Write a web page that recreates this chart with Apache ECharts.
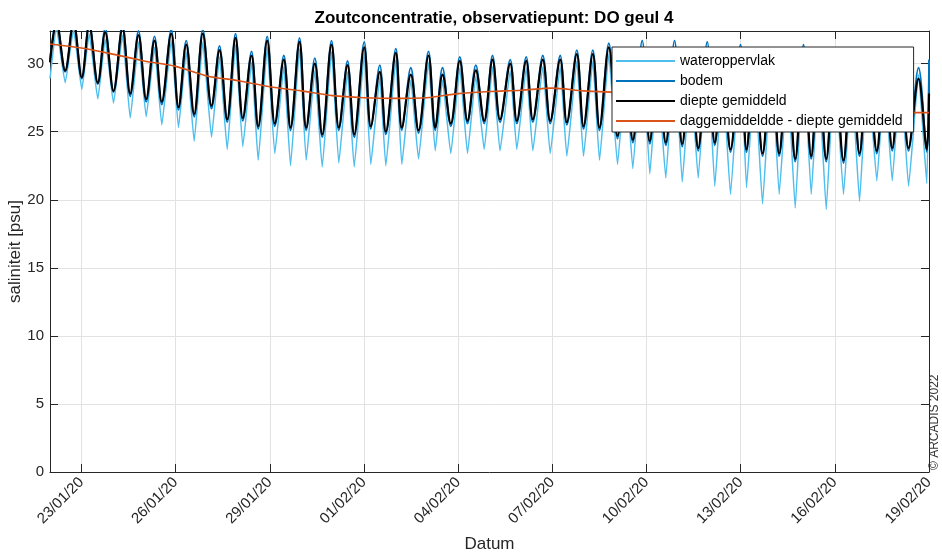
<!DOCTYPE html>
<html>
<head>
<meta charset="utf-8">
<script src="https://cdn.jsdelivr.net/npm/echarts@6/dist/echarts.min.js"></script>
<style>
  html, body { margin: 0; padding: 0; background: #ffffff; }
  #chart { width: 942px; height: 553px; }
</style>
</head>
<body>
<div id="chart"></div>
<script>
// Time of each tidal extreme (high / low), in days after 22/01/2020 00:00
const extremeDays = [
  0.000, 0.207, 0.484, 0.749, 1.013, 1.249, 1.523, 1.758, 2.023, 2.309,
  2.555, 2.819, 3.064, 3.329, 3.561, 3.861, 4.093, 4.339, 4.593, 4.867,
  5.145, 5.399, 5.645, 5.909, 6.142, 6.419, 6.632, 6.919, 7.161, 7.448,
  7.661, 7.948, 8.161, 8.435, 8.671, 8.967, 9.200, 9.477, 9.690, 10.009,
  10.219, 10.506, 10.697, 11.016, 11.207, 11.493, 11.739, 12.057, 12.271, 12.503,
  12.767, 13.054, 13.299, 13.564, 13.831, 14.096, 14.335, 14.660, 14.870, 15.169,
  15.380, 15.698, 15.934, 16.252, 16.463, 16.781, 16.995, 17.291, 17.504, 17.800,
  18.078, 18.332, 18.565, 18.864, 19.107, 19.352, 19.616, 19.894, 20.139, 20.403,
  20.648, 20.935, 21.177, 21.422, 21.677, 21.996, 22.187, 22.442, 22.697, 22.984,
  23.228, 23.493, 23.738, 24.002, 24.248, 24.480, 24.726, 24.990, 25.277, 25.532,
  25.787, 26.042, 26.338, 26.583, 26.829, 27.093, 27.348, 27.666, 27.930, 28.000
];

// Salinity [psu] at those moments
const surfaceSal = [
  28.9, 32.6, 28.6, 32.5, 28.1, 32.2, 27.4, 31.8, 27.1, 32.1,
  26.0, 31.6, 26.1, 31.2, 25.5, 31.7, 25.3, 30.9, 24.3, 31.6,
  24.6, 30.5, 23.7, 31.4, 23.9, 30.1, 22.9, 31.2, 23.4, 29.8,
  22.5, 31.1, 22.9, 29.5, 22.4, 30.9, 22.7, 29.4, 22.4, 30.7,
  22.6, 29.0, 22.5, 30.3, 22.6, 28.8, 23.0, 30.1, 23.6, 28.8,
  23.4, 29.7, 23.4, 29.1, 23.7, 29.8, 23.6, 29.5, 23.7, 29.7,
  23.6, 29.8, 23.4, 29.8, 23.2, 30.2, 23.2, 30.2, 22.9, 30.7,
  22.6, 29.3, 22.3, 31.2, 21.9, 29.3, 21.6, 31.1, 21.3, 29.3,
  21.6, 31.0, 21.0, 29.2, 20.4, 30.9, 20.9, 29.1, 19.7, 30.1,
  20.4, 29.0, 19.4, 30.6, 20.4, 29.0, 19.3, 30.0, 20.4, 29.0,
  19.9, 29.8, 21.4, 29.0, 21.4, 29.5, 21.0, 29.2, 21.2, 30.2
];
const bottomSal = [
  30.3, 33.2, 29.4, 33.2, 28.9, 33.0, 28.5, 32.6, 27.9, 32.9,
  27.6, 32.4, 27.2, 32.0, 27.0, 32.5, 26.6, 31.7, 26.1, 32.5,
  26.7, 31.3, 25.7, 32.2, 25.8, 30.9, 25.2, 32.0, 25.4, 30.6,
  25.1, 31.9, 25.1, 30.4, 24.6, 31.7, 25.1, 30.2, 24.6, 31.6,
  25.2, 29.9, 24.8, 31.1, 25.1, 29.7, 24.9, 30.9, 25.1, 29.7,
  25.4, 30.5, 25.6, 29.9, 25.6, 30.6, 25.7, 30.3, 25.6, 30.5,
  25.7, 30.6, 25.6, 30.6, 25.5, 31.0, 25.2, 31.0, 25.1, 31.5,
  24.5, 30.1, 24.2, 31.7, 24.1, 30.1, 24.0, 31.7, 23.9, 30.1,
  23.6, 31.6, 24.0, 30.0, 23.5, 31.4, 23.5, 29.9, 23.2, 30.9,
  23.2, 29.8, 22.8, 31.4, 23.0, 29.8, 22.8, 30.8, 22.7, 29.8,
  23.2, 30.6, 23.4, 29.8, 23.6, 30.3, 23.6, 29.7, 23.5, 30.3
];
const depthMeanSal = [
  30.1, 33.0, 29.5, 33.0, 29.0, 32.8, 28.6, 32.3, 28.0, 32.6,
  27.8, 32.1, 27.4, 31.7, 27.2, 32.2, 26.8, 31.4, 26.3, 32.2,
  26.9, 31.0, 25.9, 31.9, 26.0, 30.6, 25.4, 31.7, 25.6, 30.3,
  25.3, 31.6, 25.3, 30.0, 24.8, 31.4, 25.3, 29.9, 24.8, 31.2,
  25.4, 29.4, 25.0, 30.8, 25.3, 29.2, 25.1, 30.6, 25.3, 29.2,
  25.6, 30.2, 25.8, 29.5, 25.8, 30.3, 25.9, 30.0, 25.8, 30.2,
  25.9, 30.3, 25.8, 30.3, 25.7, 30.7, 25.4, 30.7, 25.3, 31.2,
  24.7, 29.8, 24.4, 31.0, 24.3, 29.8, 24.2, 31.0, 24.1, 29.8,
  23.8, 30.9, 24.2, 29.7, 23.7, 30.8, 23.7, 29.6, 23.4, 30.6,
  23.4, 29.5, 23.0, 30.8, 23.2, 29.5, 23.0, 30.5, 22.9, 29.5,
  23.4, 30.3, 23.6, 29.5, 23.8, 30.0, 23.8, 28.9, 23.7, 27.8
];

// Daily mean of the depth-averaged salinity, one value per day (00:00)
const dailyDays = [0, 1, 2, 3, 4, 5, 6, 7, 8, 9, 10, 11, 12, 13, 14,
                   15, 16, 17, 18, 19, 20, 21, 22, 23, 24, 25, 26, 27, 28];
const dailyMeanSal = [31.45, 31.15, 30.7, 30.2, 29.8, 29.1, 28.75, 28.3, 28.0, 27.65,
                      27.5, 27.45, 27.5, 27.8, 27.95, 28.05, 28.2, 28.0, 27.9, 27.8,
                      27.6, 27.3, 27.0, 26.8, 26.6, 26.5, 26.4, 26.4, 26.4];

// Axis ticks
const dateTickDays = [1, 4, 7, 10, 13, 16, 19, 22, 25, 28];
const dateTickLabels = ['23/01/20', '26/01/20', '29/01/20', '01/02/20', '04/02/20',
                        '07/02/20', '10/02/20', '13/02/20', '16/02/20', '19/02/20'];
const salTicks = [0, 5, 10, 15, 20, 25, 30];

const seriesNames = ['wateroppervlak', 'bodem', 'diepte gemiddeld',
                     'daggemiddeldde - diepte gemiddeld'];

const FONT = '"Liberation Sans", Arial, Helvetica, sans-serif';
const AXIS_COLOR = '#262626';
const GRID_COLOR = '#e2e2e2';

const pairs = (xs, ys) => xs.map((x, i) => [x, ys[i]]);

const chart = echarts.init(document.getElementById('chart'), null, { renderer: 'canvas' });

// Top and right axes only close the box and carry inward ticks
const frameAxis = (extra) => Object.assign({
  type: 'value',
  axisLine: { show: true, onZero: false, lineStyle: { color: AXIS_COLOR, width: 1 } },
  axisLabel: { show: false },
  splitLine: { show: false }
}, extra);

chart.setOption({
  animation: false,
  backgroundColor: '#ffffff',
  textStyle: { fontFamily: FONT },
  title: {
    text: 'Zoutconcentratie, observatiepunt: DO geul 4',
    left: 489,
    top: 5,
    textAlign: 'center',
    textStyle: { fontFamily: FONT, fontSize: 17, fontWeight: 'bold', color: '#000000' }
  },
  grid: { left: 50, right: 13, top: 31, bottom: 81, containLabel: false, outerBoundsMode: 'none' },
  legend: {
    data: seriesNames,
    orient: 'vertical',
    left: 612,
    top: 47,
    z: 20,
    backgroundColor: '#ffffff',
    borderColor: AXIS_COLOR,
    borderWidth: 1,
    borderRadius: 0,
    padding: [7, 11, 4, 4],
    itemWidth: 59,
    itemHeight: 2,
    itemGap: 6,
    icon: 'rect',
    selectedMode: false,
    textStyle: { fontFamily: FONT, fontSize: 14, color: '#000000', lineHeight: 14 }
  },
  xAxis: [
    {
      type: 'value',
      min: 0,
      max: 28,
      position: 'bottom',
      axisLine: { show: true, onZero: false, lineStyle: { color: AXIS_COLOR, width: 1 } },
      axisTick: { show: true, inside: true, length: 8, customValues: dateTickDays,
                  lineStyle: { color: AXIS_COLOR, width: 1 } },
      axisLabel: {
        customValues: dateTickDays,
        rotate: 45,
        margin: 8,
        fontFamily: FONT,
        fontSize: 15,
        color: AXIS_COLOR,
        formatter: (v) => {
          const i = dateTickDays.indexOf(Math.round(v));
          return i >= 0 ? dateTickLabels[i] : '';
        }
      },
      splitLine: { show: true, lineStyle: { color: GRID_COLOR, width: 1 } },
      name: 'Datum',
      nameLocation: 'middle',
      nameGap: 64,
      nameMoveOverlap: false,
      nameTextStyle: { fontFamily: FONT, fontSize: 17, color: AXIS_COLOR }
    },
    frameAxis({ min: 0, max: 28, position: 'top',
                axisTick: { show: true, inside: true, length: 8, customValues: dateTickDays,
                            lineStyle: { color: AXIS_COLOR, width: 1 } } })
  ],
  yAxis: [
    {
      type: 'value',
      min: 0,
      max: 32.4,
      position: 'left',
      axisLine: { show: true, onZero: false, lineStyle: { color: AXIS_COLOR, width: 1 } },
      axisTick: { show: true, inside: true, length: 8, customValues: salTicks,
                  lineStyle: { color: AXIS_COLOR, width: 1 } },
      axisLabel: { customValues: salTicks, margin: 6, fontFamily: FONT, fontSize: 15, color: AXIS_COLOR },
      splitLine: { show: true, lineStyle: { color: GRID_COLOR, width: 1 } },
      name: 'saliniteit [psu]',
      nameLocation: 'middle',
      nameGap: 26,
      nameMoveOverlap: false,
      nameTextStyle: { fontFamily: FONT, fontSize: 17, color: AXIS_COLOR }
    },
    frameAxis({ min: 0, max: 32.4, position: 'right',
                axisTick: { show: true, inside: true, length: 8, customValues: salTicks,
                            lineStyle: { color: AXIS_COLOR, width: 1 } } })
  ],
  series: [
    {
      name: seriesNames[0],
      type: 'line',
      data: pairs(extremeDays, surfaceSal),
      showSymbol: false,
      smooth: 0.12,
      color: '#4DBEEE',
      lineStyle: { color: '#4DBEEE', width: 1.5 },
      z: 2
    },
    {
      name: seriesNames[1],
      type: 'line',
      data: pairs(extremeDays, bottomSal),
      showSymbol: false,
      smooth: 0.35,
      color: '#0072BD',
      lineStyle: { color: '#0072BD', width: 1.8 },
      z: 3
    },
    {
      name: seriesNames[2],
      type: 'line',
      data: pairs(extremeDays, depthMeanSal),
      showSymbol: false,
      smooth: 0.35,
      color: '#000000',
      lineStyle: { color: '#000000', width: 2.2 },
      z: 4
    },
    {
      name: seriesNames[3],
      type: 'line',
      data: pairs(dailyDays, dailyMeanSal),
      showSymbol: false,
      smooth: 0.3,
      color: '#D95319',
      lineStyle: { color: '#D95319', width: 1.6 },
      z: 5
    }
  ],
  graphic: [
    {
      type: 'text',
      x: 941,
      y: 470,
      z: 20,
      rotation: Math.PI / 2,
      style: {
        text: '© ARCADIS 2022',
        fontFamily: FONT,
        fontSize: 12,
        fill: '#333333',
        align: 'left',
        verticalAlign: 'bottom'
      }
    }
  ]
});
</script>
</body>
</html>
